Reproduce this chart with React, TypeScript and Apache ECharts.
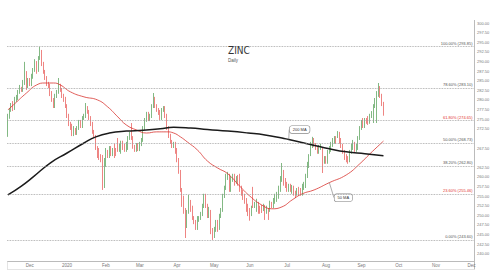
import React, { useEffect, useRef } from "react";
import * as echarts from "echarts";

// ---- categories: trading days (weekdays) starting here ----
const START_DATE = "2019-11-13";
const N_DAYS = 276;
const MONTHS = ["Jan", "Feb", "Mar", "Apr", "May", "Jun", "Jul", "Aug", "Sep", "Oct", "Nov", "Dec"];

// ---- daily candles: [open, close, low, high] ----
const CANDLES: number[][] = [
  [274.5,275.6,270.4,276.4],[275.6,277.4,275.1,277.9],[277.4,278.4,276.9,279.2],[279.0,277.9,277.1,279.7],
  [277.9,280.0,277.4,280.8],[280.0,280.8,279.5,281.3],[280.5,282.1,280.0,282.6],[282.1,283.1,281.6,283.9],
  [282.9,282.6,282.1,283.4],[282.6,284.7,282.1,285.2],[284.4,287.3,283.9,289.9],[286.8,283.1,282.6,287.5],
  [283.6,285.2,283.1,285.7],[285.2,284.2,283.6,285.7],[284.2,286.2,283.6,286.8],[286.0,287.8,285.5,288.3],
  [287.8,289.9,287.3,290.6],[289.6,287.3,286.8,290.1],[287.8,290.9,287.3,291.4],[290.9,292.7,290.4,293.8],
  [292.5,289.4,288.8,293.0],[289.4,287.3,286.8,289.9],[287.3,285.7,285.2,287.8],[285.7,284.2,283.6,286.2],
  [284.2,283.6,283.1,284.7],[283.6,281.6,281.0,284.2],[281.8,280.0,279.5,282.3],[280.0,278.4,277.9,280.5],
  [278.4,281.0,277.9,281.6],[281.0,282.1,280.5,282.6],[282.1,283.6,281.6,285.7],[283.6,282.6,282.1,284.2],
  [282.6,281.0,280.5,283.1],[281.0,280.0,279.5,281.6],[280.3,278.4,277.9,280.8],[278.4,275.8,275.3,278.9],
  [275.8,273.8,273.2,276.4],[273.8,272.7,272.2,274.3],[273.2,271.2,270.6,273.8],[271.2,272.7,270.6,273.2],
  [272.2,271.4,270.9,272.7],[271.4,272.7,270.9,273.2],[272.7,274.3,272.2,274.8],[274.3,273.2,272.7,274.8],
  [273.2,275.3,272.7,275.8],[275.3,275.8,274.8,276.4],[275.8,277.9,275.3,279.2],[277.9,276.9,276.4,278.4],
  [276.9,275.3,274.8,277.4],[275.3,273.8,273.2,275.8],[273.8,271.7,271.2,274.3],[271.7,270.6,270.1,272.2],
  [270.4,267.5,267.0,270.9],[267.5,265.4,264.9,268.0],[267.0,264.9,264.4,267.5],[265.4,264.4,263.8,265.9],
  [265.2,262.6,256.6,265.7],[261.3,264.4,257.1,264.9],[263.1,267.0,262.6,267.5],[266.5,265.4,264.9,267.0],
  [265.4,267.5,264.9,268.0],[267.5,266.0,265.4,268.0],[266.0,267.0,265.4,267.5],[268.0,265.4,264.9,268.6],
  [267.0,266.0,265.4,267.5],[269.6,267.0,266.5,270.1],[267.0,268.0,266.5,268.6],[266.5,268.8,266.0,269.4],
  [268.8,267.5,267.0,269.4],[268.0,267.0,266.5,268.6],[267.0,268.6,266.5,269.1],[267.5,270.1,267.0,270.6],
  [270.1,271.2,269.6,271.7],[273.2,270.1,269.6,274.0],[270.1,267.8,267.3,270.6],[267.8,267.0,266.5,268.3],
  [267.0,268.3,266.5,268.8],[268.3,267.3,266.7,268.8],[267.3,268.6,266.7,269.1],[268.6,269.6,268.0,270.1],
  [269.6,272.7,269.1,273.2],[272.7,274.8,272.2,275.3],[274.8,276.4,274.3,276.9],[276.4,275.1,274.5,276.9],
  [275.1,275.8,274.5,276.4],[275.8,278.4,275.3,278.9],[278.4,280.5,277.9,281.8],[280.3,278.4,277.9,280.8],
  [278.4,277.4,276.9,278.9],[277.4,276.6,276.1,277.9],[276.9,275.3,274.8,277.4],[275.3,277.4,274.8,277.9],
  [277.4,277.9,276.9,278.4],[277.9,275.8,275.3,278.4],[275.8,272.7,272.2,276.4],[272.7,270.6,270.1,273.2],
  [270.6,269.1,268.6,271.2],[269.1,268.0,267.5,269.6],[268.0,268.6,267.5,269.1],[268.6,266.5,266.0,269.1],
  [267.0,264.4,263.8,267.5],[264.4,261.3,260.8,264.9],[261.3,256.6,256.1,261.8],[256.6,252.7,252.2,257.1],
  [254.5,250.9,250.4,255.1],[251.4,246.7,244.1,251.9],[247.2,250.9,246.7,251.4],[250.9,254.0,250.4,255.3],
  [253.5,251.4,250.9,254.0],[251.9,249.3,248.8,252.5],[249.3,248.3,247.7,249.8],[248.3,246.7,246.2,248.8],
  [246.7,249.3,246.2,249.8],[248.8,249.3,248.3,249.8],[249.3,250.4,248.8,250.9],[250.4,252.5,249.8,253.0],
  [252.5,255.0,251.9,255.6],[255.0,252.5,251.9,255.6],[252.5,249.8,249.3,253.0],[249.8,251.7,249.3,252.2],
  [250.9,245.7,245.1,251.4],[246.2,244.4,243.6,246.7],[244.6,246.5,244.1,247.0],[246.2,248.3,245.7,248.8],
  [248.3,246.2,245.7,248.8],[246.7,249.8,246.2,250.4],[249.8,251.4,249.3,251.9],[251.4,255.0,250.9,255.6],
  [255.0,257.1,254.5,257.7],[257.1,260.2,256.6,260.8],[259.7,260.8,259.2,261.3],[260.2,256.6,256.1,260.8],
  [256.6,259.7,256.1,260.2],[259.2,260.2,258.7,260.8],[260.2,258.2,257.7,260.8],[258.7,259.7,258.2,260.2],
  [260.0,258.2,257.7,260.5],[260.2,256.6,256.1,260.8],[257.1,255.6,255.1,257.7],[256.1,254.5,254.0,256.6],
  [255.0,253.5,253.0,255.6],[254.0,251.4,250.9,254.5],[252.5,250.4,249.8,253.0],[251.4,249.1,248.6,251.9],
  [250.4,251.9,249.8,252.5],[254.5,252.5,251.9,257.4],[252.5,253.0,251.9,253.5],[251.4,253.7,250.9,254.3],
  [253.0,250.9,250.4,253.5],[251.9,250.9,250.4,252.5],[252.2,251.1,250.6,252.7],[251.7,252.5,251.1,253.0],
  [252.2,250.9,248.8,252.7],[250.9,251.9,250.4,252.5],[251.4,250.4,248.8,251.9],[251.4,253.2,250.9,253.8],
  [253.0,252.5,251.9,253.5],[252.5,254.0,251.9,254.5],[253.5,255.0,253.0,255.6],[254.0,255.6,253.5,256.1],
  [254.8,257.1,254.3,257.7],[256.6,259.7,256.1,260.2],[259.2,261.8,258.7,263.6],[261.3,258.2,257.7,261.8],
  [259.2,257.6,257.1,259.7],[258.2,256.6,256.1,258.7],[256.6,257.6,256.1,258.2],[257.6,256.6,256.1,258.2],
  [256.1,257.4,255.6,257.9],[257.1,255.6,255.1,257.7],[255.8,255.0,254.5,256.4],[255.6,256.6,255.1,257.1],
  [256.9,255.6,255.1,257.4],[256.6,255.6,255.1,257.1],[255.6,257.6,255.1,258.2],[257.1,258.2,256.6,258.7],
  [257.6,260.2,257.1,260.8],[260.2,263.4,259.7,263.9],[262.8,265.4,262.3,265.9],[265.9,268.6,265.4,269.1],
  [268.0,269.9,267.5,270.4],[269.6,268.3,267.8,270.1],[268.3,267.5,267.0,268.8],[267.5,266.5,266.0,268.0],
  [266.5,267.8,266.0,268.3],[267.5,268.0,267.0,268.6],[267.0,263.1,261.0,267.5],[263.9,264.9,263.4,265.4],
  [264.9,263.9,263.4,265.4],[263.9,266.5,263.4,267.0],[266.5,267.5,266.0,268.0],[267.0,268.6,266.5,269.1],
  [268.3,269.6,267.8,270.1],[269.1,270.1,268.6,270.6],[270.1,269.1,268.6,270.6],[270.6,271.2,270.1,271.9],
  [271.2,269.1,268.6,271.7],[269.6,268.0,267.5,270.1],[268.0,266.5,266.0,268.6],[266.5,264.9,264.4,267.0],
  [265.4,264.4,263.8,265.9],[264.9,263.9,263.4,265.4],[264.4,266.5,263.8,267.0],[266.5,268.0,266.0,268.6],
  [267.5,269.1,267.0,269.6],[268.6,267.0,266.5,269.1],[267.0,268.0,266.5,268.6],[267.5,270.1,267.0,270.6],
  [270.1,272.7,269.6,273.2],[272.7,274.3,272.2,274.8],[274.8,273.2,272.7,275.3],[273.2,274.8,272.7,275.3],
  [274.8,274.3,273.8,275.3],[275.3,274.0,273.5,275.8],[274.3,275.8,273.8,276.4],[275.8,276.6,275.3,277.1],
  [276.4,278.4,274.0,278.9],[278.4,280.0,277.9,280.5],[280.0,281.8,274.0,282.3],[281.3,283.4,280.8,284.4],
  [283.1,281.0,280.5,283.6],[281.0,279.0,278.4,281.6],[279.0,276.4,275.9,279.5],
];

// ---- moving averages: [day index, value] ----
const MA200: number[][] = [
  [0,255.3],[8,257.6],[15,260.0],[25,263.6],[35,266.2],[45,268.8],[52,270.4],[60,271.4],[70,271.9],
  [80,272.1],[90,272.5],[98,272.9],[108,272.7],[118,272.3],[130,271.9],[142,271.4],[152,270.9],
  [162,270.1],[166,269.7],[170,269.3],[180,268.3],[190,267.3],[200,266.5],[211,266.0],[222,265.5],
];
const MA200_LABEL_AT = 166;
const MA50: number[][] = [
  [0,277.4],[4,279.0],[11,281.8],[17,283.9],[22,284.4],[27,284.4],[31,283.9],[37,282.1],[45,280.8],
  [53,280.0],[59,278.2],[65,275.6],[70,273.5],[76,272.2],[82,271.4],[88,271.7],[94,271.7],[98,271.4],
  [102,270.4],[106,269.1],[112,267.0],[118,264.1],[124,262.3],[130,260.8],[137,257.6],[143,255.0],
  [150,252.7],[156,251.7],[162,252.2],[168,254.0],[174,255.6],[181,256.6],[190,258.5],[200,260.5],
  [208,263.4],[214,266.0],[222,269.3],
];
const MA50_LABEL_AT = 190;

// ---- Fibonacci retracement levels ----
const FIB_NAMES = ["100.00%", "78.60%", "61.80%", "50.00%", "38.20%", "23.60%", "0.00%"];
const FIB_VALUES = [293.85, 283.1, 274.65, 268.73, 262.8, 255.46, 243.6];
const FIB_RED = [false, false, true, false, false, true, false];

// ---- price axis ----
const Y_MIN = 237.5;
const Y_MAX = 302.5;
const Y_STEP = 2.5;

function weekdays(start: string, n: number): string[] {
  const out: string[] = [];
  const d = new Date(start + "T00:00:00Z");
  while (out.length < n) {
    const wd = d.getUTCDay();
    if (wd !== 0 && wd !== 6) out.push(d.toISOString().slice(0, 10));
    d.setUTCDate(d.getUTCDate() + 1);
  }
  return out;
}

const FONT = "Liberation Sans, Arial, sans-serif";
const GREEN = "#2f8a30";
const RED = "#e2332f";

export default function App() {
  const ref = useRef<HTMLDivElement>(null);
  useEffect(() => {
    if (!ref.current) return;
    const chart = echarts.init(ref.current, undefined, { renderer: "svg" });
    const dates = weekdays(START_DATE, N_DAYS);
    const last = CANDLES[CANDLES.length - 1][1];
    const ma50Last = MA50[MA50.length - 1][1];
    const ma200Last = MA200[MA200.length - 1][1];
    const tagValues = [last, ma50Last, ma200Last];

    const tag = (v: number, bg: string) => ({
      yAxis: v,
      lineStyle: { opacity: 0 },
      label: {
        show: true,
        position: "end",
        distance: 0,
        formatter: v.toFixed(2),
        backgroundColor: bg,
        color: "#fff",
        fontSize: 4,
        fontFamily: FONT,
        padding: [1, 1.5, 0.5, 1.5],
      },
    });

    const fibItems = FIB_VALUES.map((v, i) => ({
      yAxis: v,
      lineStyle: { color: "#9a9a9a", type: "dotted", width: 0.8 },
      label: {
        show: true,
        position: "insideEndTop",
        distance: 1.5,
        formatter: `${FIB_NAMES[i]} (${v.toFixed(2)})`,
        color: FIB_RED[i] ? RED : "#555",
        fontSize: 4,
        fontFamily: FONT,
      },
    }));

    const maItems = (arr: number[][], at: number, text: string) =>
      arr.map((p) =>
        p[0] === at
          ? {
              value: p,
              label: {
                show: true,
                position: "inside",
                formatter: text,
                fontSize: 4,
                fontFamily: FONT,
                color: "#333",
                backgroundColor: "#fff",
                borderColor: "#888",
                borderWidth: 0.6,
                borderRadius: 2,
                padding: [1.5, 3],
              },
            }
          : { value: p }
      );

    chart.setOption({
      animation: false,
      title: {
        text: "ZINC",
        subtext: "Daily",
        left: 228,
        top: 45,
        padding: 0,
        itemGap: 3,
        textStyle: {
          fontSize: 10,
          fontWeight: "normal",
          color: "#333",
          fontFamily: "Liberation Sans Narrow, DejaVu Sans Condensed, sans-serif",
        },
        subtextStyle: { fontSize: 4.5, color: "#555", fontFamily: FONT },
      },
      grid: { left: 7, right: 26, top: 13.4, bottom: 16.6 },
      xAxis: {
        type: "category",
        data: dates,
        boundaryGap: true,
        axisLine: { show: false },
        axisTick: { show: false },
        splitLine: { show: false },
        axisLabel: {
          interval: (index: number, value: string) =>
            index > 0 && value.slice(5, 7) !== dates[index - 1].slice(5, 7),
          formatter: (value: string) => {
            const m = parseInt(value.slice(5, 7), 10) - 1;
            return m === 0 ? value.slice(0, 4) : MONTHS[m];
          },
          fontSize: 4.5,
          color: "#777",
          fontFamily: FONT,
          margin: 0,
        },
      },
      yAxis: {
        type: "value",
        position: "right",
        min: Y_MIN,
        max: Y_MAX,
        interval: Y_STEP,
        axisLine: { show: false },
        axisTick: { show: false },
        splitLine: { show: false },
        axisLabel: {
          // labels hidden behind the price tags, as in the reference
          formatter: (v: number) => (tagValues.some((t) => Math.abs(t - v) < 1) ? "" : v.toFixed(2)),
          fontSize: 4,
          color: "#777",
          fontFamily: FONT,
          margin: 3,
          showMinLabel: false,
          showMaxLabel: false,
        },
      },
      series: [
        {
          type: "candlestick",
          data: CANDLES,
          barWidth: "72%",
          itemStyle: {
            color: GREEN,
            color0: RED,
            borderColor: GREEN,
            borderColor0: RED,
            borderWidth: 0.6,
          },
          markLine: {
            symbol: "none",
            silent: true,
            animation: false,
            data: [...fibItems, tag(last, RED)],
          },
          z: 2,
        },
        {
          type: "line",
          data: maItems(MA200, MA200_LABEL_AT, "200 MA"),
          smooth: true,
          showSymbol: true,
          symbol: "circle",
          symbolSize: 0.01,
          lineStyle: { color: "#1b1b1b", width: 1.5 },
          itemStyle: { color: "#1b1b1b" },
          labelLayout: { dx: 11, dy: -10 },
          labelLine: { show: true, lineStyle: { color: "#777", width: 0.6 } },
          markLine: { symbol: "none", silent: true, animation: false, data: [tag(ma200Last, "#111")] },
          z: 4,
        },
        {
          type: "line",
          data: maItems(MA50, MA50_LABEL_AT, "50 MA"),
          smooth: true,
          showSymbol: true,
          symbol: "circle",
          symbolSize: 0.01,
          lineStyle: { color: "#d8342e", width: 0.8 },
          itemStyle: { color: "#d8342e" },
          labelLayout: { dx: 14, dy: 15 },
          labelLine: { show: true, lineStyle: { color: "#777", width: 0.6 } },
          markLine: { symbol: "none", silent: true, animation: false, data: [tag(ma50Last, RED)] },
          z: 3,
        },
      ],
      graphic: [
        { type: "line", shape: { x1: 7, y1: 261.5, x2: 474, y2: 261.5 }, style: { stroke: "#aaa", lineWidth: 0.8 } },
        { type: "line", shape: { x1: 7, y1: 269.5, x2: 474, y2: 269.5 }, style: { stroke: "#ddd", lineWidth: 0.8 } },
        { type: "line", shape: { x1: 7.5, y1: 261.5, x2: 7.5, y2: 269.5 }, style: { stroke: "#ddd", lineWidth: 0.8 } },
        { type: "line", shape: { x1: 474.5, y1: 20, x2: 474.5, y2: 269.5 }, style: { stroke: "#aaa", lineWidth: 0.8 } },
      ],
    });
    return () => chart.dispose();
  }, []);
  return (
    <div
      ref={ref}
      style={{ position: "absolute", left: 0, top: 0, width: 500, height: 280, background: "#fff" }}
    />
  );
}
